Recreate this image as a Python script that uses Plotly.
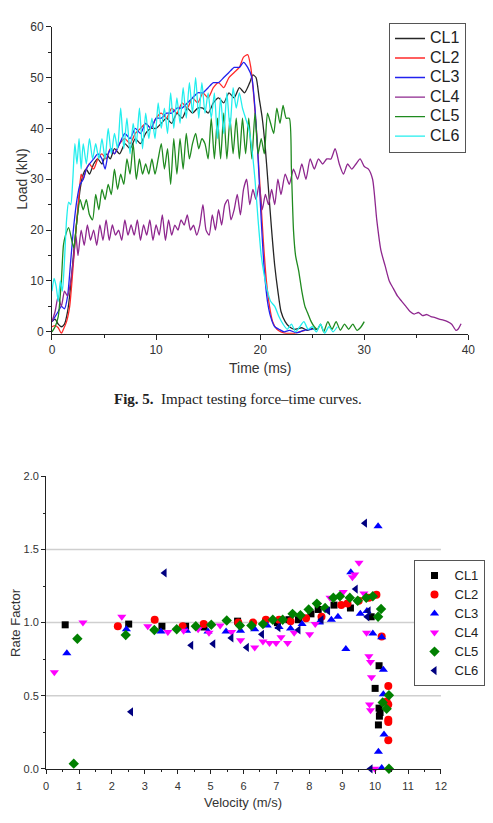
import plotly.graph_objects as go

W, H = 493, 823

# ---------------- Fig. 5 data: load (kN) vs time (ms) ----------------
series_names = ["CL1", "CL2", "CL3", "CL4", "CL5", "CL6"]

t_cl1 = [0, 0.3, 0.6, 0.9, 1.2, 1.5, 1.8, 2.1, 2.4, 2.7, 3.0, 3.3, 3.6, 4.0, 4.4, 4.8, 5.2, 5.6, 6.0, 6.5,
         7.0, 7.5, 8.0, 8.5, 9.0, 9.5, 10.0, 10.5, 11.0, 11.5, 12.0, 12.5, 13.0, 13.5, 14.0, 14.5, 15.0,
         15.5, 16.0, 16.5, 17.0, 17.5, 18.0, 18.5, 19.0, 19.3, 19.6, 19.9, 20.2, 20.5, 20.8, 21.1, 21.4,
         21.7, 22.0, 22.4, 22.8, 23.3, 24.0, 24.5, 25.0, 25.5]
load_cl1 = [2, 2.5, 1.5, 1, 1.5, 4, 9, 16, 22, 28, 31, 32, 31, 33, 34, 33, 35, 34, 36, 35,
            37, 36, 38, 37, 39, 40, 40, 41, 42, 41, 43, 42, 44, 43, 44, 44, 43,
            45, 46, 45, 47, 46, 48, 47, 49, 50.5, 50, 46, 42, 36, 28, 20, 13,
            8, 4, 2, 1, 0.5, 0.8, 0.3, 0.6, 0.5]

t_cl2 = [0, 0.3, 0.6, 0.9, 1.1, 1.4, 1.7, 2.0, 2.3, 2.6, 2.8, 3.0, 3.3, 3.6, 4.0, 4.4, 4.8, 5.2, 5.6, 6.0,
         6.5, 7.0, 7.5, 8.0, 8.5, 9.0, 9.5, 10, 10.5, 11, 11.5, 12, 12.5, 13, 13.5, 14, 14.5, 15, 15.5,
         16, 16.5, 17, 17.5, 18, 18.4, 18.8, 19.1, 19.4, 19.7, 20.0, 20.3, 20.6, 20.9, 21.2, 21.6,
         22.0, 22.5, 23.0, 23.3, 23.8, 24.3]
load_cl2 = [1, 1.2, 0.8, -0.3, 0.5, 2, 5, 12, 20, 27, 31, 30, 32, 33, 32, 34, 35, 34, 36, 35,
            37, 38, 37, 39, 40, 41, 40, 42, 43, 42, 44, 43, 45, 44, 46, 45, 47, 46, 48,
            49, 48, 50, 51, 52, 54, 54.5, 52, 46, 38, 28, 18, 10, 5, 2, 0.5,
            0, -0.3, -0.3, -0.3, 0, 0.3]

t_cl3 = [0, 0.3, 0.6, 0.9, 1.2, 1.5, 1.8, 2.1, 2.4, 2.7, 3.0, 3.3, 3.6, 4.0, 4.4, 4.8, 5.1, 5.4, 5.7, 6.0,
         6.5, 7, 7.5, 8, 8.5, 9, 9.5, 10, 10.5, 11, 11.5, 12, 12.5, 13, 13.5, 14, 14.5, 15, 15.5, 16,
         16.5, 17, 17.5, 18.0, 18.4, 18.8, 19.2, 19.5, 19.8, 20.1, 20.4, 20.7, 21.0, 21.4, 21.8, 22.3,
         22.8, 23.5, 24.2, 25]
load_cl3 = [2, 3, 4, 5, 4.5, 7, 14, 21, 26, 29, 30, 32, 33, 34, 35, 34, 32, 35, 36, 35,
            37, 39, 38, 40, 39, 41, 40, 42, 42, 43, 43, 44, 44, 45, 46, 47, 47, 48, 49, 49,
            50, 51, 52, 52, 53, 52, 50, 44, 34, 22, 12, 6, 3, 1, 0.5, 0,
            0.3, -0.2, 0.3, 0.5]

t_cl4 = [0, 0.3, 0.6, 0.9, 1.2, 1.5, 1.8, 2.1, 2.3, 2.5, 2.8, 3.1, 3.4, 3.7, 4.0, 4.3, 4.6, 4.9, 5.2, 5.5,
         5.8, 6.1, 6.4, 6.7, 7.0, 7.3, 7.6, 7.9, 8.2, 8.5, 8.8, 9.1, 9.4, 9.7, 10.0, 10.3, 10.6, 10.9,
         11.2, 11.5, 11.8, 12.1, 12.4, 12.7, 13.0, 13.3, 13.6, 13.9, 14.2, 14.5, 14.8, 15.1, 15.4, 15.7,
         16.0, 16.3, 16.6, 16.9, 17.2, 17.5, 17.8, 18.1, 18.4, 18.7, 19.0, 19.3, 19.6, 19.9, 20.2, 20.5,
         20.8, 21.1, 21.4, 21.7, 22.0, 22.4, 22.8, 23.2, 23.6, 24.0, 24.4, 24.8, 25.2, 25.6, 26.0, 26.4,
         26.8, 27.2, 27.6, 28.0, 28.4, 28.8, 29.2, 29.6, 30.0, 30.4, 30.8, 31.2, 31.6, 32.0, 32.4, 32.8,
         33.2, 33.6, 34.0, 34.4, 34.8, 35.2, 35.6, 36.0, 36.4, 36.8, 37.2, 37.6, 38.0, 38.4, 38.8, 39.0,
         39.3]
load_cl4 = [2, 4, 7, 5, 8, 7, 10, 15, 19, 15, 20, 17, 21, 18, 20, 17, 21, 18, 22, 18,
            21, 19, 20, 18, 22, 19, 21, 19, 22, 18, 21, 19, 22, 18, 21, 19, 23, 18,
            22, 19, 21, 20, 22, 21, 23, 20, 21, 19, 21, 25, 20, 19, 23, 20,
            24, 21, 25, 26, 22, 24, 27, 23, 28, 30, 25, 28, 26, 29, 24, 27,
            25, 28, 25, 30, 27, 31, 29, 32, 30, 33, 30, 34, 32, 34, 33, 34,
            34, 36, 33, 31, 33, 32, 33, 34, 32.5, 32, 30, 22, 16, 13, 10, 8.5,
            7, 6, 5, 4, 3.5, 3.8, 3.2, 3.4, 3, 2.8, 2.5, 2.3, 2.0, 1.5, 0.3, 0.5,
            1.6]

t_cl5 = [0, 0.3, 0.6, 0.9, 1.1, 1.3, 1.6, 1.9, 2.1, 2.4, 2.7, 3.0, 3.3, 3.6, 3.9, 4.2, 4.5, 4.8, 5.1, 5.4,
         5.7, 6.0, 6.3, 6.6, 6.9, 7.2, 7.5, 7.8, 8.1, 8.4, 8.7, 9.0, 9.3, 9.6, 9.9, 10.2, 10.5, 10.8,
         11.1, 11.4, 11.7, 12.0, 12.3, 12.6, 12.9, 13.2, 13.5, 13.8, 14.1, 14.4, 14.7, 15.0, 15.3, 15.6,
         15.9, 16.2, 16.5, 16.8, 17.1, 17.4, 17.7, 18.0, 18.3, 18.6, 18.9, 19.2, 19.5, 19.8, 20.1, 20.4,
         20.7, 21.0, 21.3, 21.6, 21.9, 22.2, 22.5, 22.8, 23.0, 23.2, 23.4, 23.7, 24.0, 24.3, 24.6, 24.9,
         25.2, 25.5, 25.8, 26.1, 26.5, 26.9, 27.3, 27.7, 28.1, 28.5, 28.9, 29.3, 29.7, 30.0]
load_cl5 = [0, 1, 3, 10, 17, 19, 20.5, 18, 16.5, 22, 26, 24, 26, 23, 22, 27, 24, 28, 26, 29,
            27, 32, 28, 31, 29, 34, 31, 37, 30, 34, 31, 33, 31, 34, 31, 34, 37, 32,
            36, 29, 38, 31, 38, 32, 39, 34, 37, 39, 36, 38, 37, 34, 42, 34,
            42, 34, 43, 34, 42, 35, 42, 34, 42, 35, 42, 34, 43, 35, 38, 35,
            43, 41, 39, 44, 41, 44.5, 42, 42, 32, 20, 15, 12, 8, 5, 3.5, 2,
            1, 0.5, 1.5, 0, 2, 0.5, 2, 0.3, 1.5, 0.5, 1.5, 0.3, 1, 2]

t_cl6 = [0, 0.2, 0.4, 0.6, 0.8, 1.0, 1.2, 1.4, 1.6, 1.8, 2.0, 2.2, 2.4, 2.6, 2.8, 3.0, 3.3, 3.6, 3.9, 4.2,
         4.5, 4.8, 5.1, 5.4, 5.7, 6.0, 6.3, 6.6, 6.9, 7.2, 7.5, 7.8, 8.1, 8.4, 8.7, 9.0, 9.3, 9.6, 9.9,
         10.2, 10.5, 10.8, 11.1, 11.4, 11.7, 12.0, 12.3, 12.6, 12.9, 13.2, 13.5, 13.8, 14.1, 14.4, 14.7,
         15.0, 15.3, 15.6, 15.9, 16.2, 16.5, 16.8, 17.1, 17.4, 17.7, 18.0, 18.3, 18.6, 18.9, 19.2, 19.5,
         19.8, 20.1, 20.4, 20.7, 21.0, 21.4, 21.8, 22.2, 22.6, 23.0, 23.4, 23.8, 24.2, 24.6, 25.0, 25.4,
         25.8, 26.2, 26.6, 27.0, 27.4]
load_cl6 = [8, 10.5, 9, 6, 10, 8, 14, 22, 25.5, 25, 30, 37, 33, 38, 32, 37, 33, 38, 34, 37,
            34, 38, 34, 40, 35, 39, 36, 44, 36, 42, 35, 41, 37, 44, 36, 43, 38, 42, 38,
            45, 40, 44, 39, 47, 40, 46, 41, 48, 42, 49, 43, 50, 42, 49, 43,
            47, 42, 47, 38, 46, 39, 47, 40, 48, 44, 47, 44, 42, 40, 36, 30,
            22, 15, 11, 8, 6, 5, 3, 1.5, 0.5, 1.5, 0, 1, 2, 0.5, 1, 0,
            1.5, -0.3, 1, 0, 1]

# ---------------- Rate factor vs velocity ----------------
vel_cl1 = [0.58, 2.51, 3.52, 4.24, 4.80, 5.82, 7.03, 7.38, 7.67, 8.05, 8.27, 8.75, 9.25, 9.88,
           10.12, 10.0, 10.12, 10.15, 10.13, 10.1]
rf_cl1 = [0.985, 0.99, 0.975, 0.975, 0.97, 1.01, 1.0, 1.02, 1.02, 1.06, 1.09, 1.12, 1.1, 1.04,
          0.705, 0.55, 0.415, 0.385, 0.36, 0.30]

vel_cl2 = [2.18, 3.3, 4.15, 4.79, 5.84, 6.29, 6.68, 7.08, 7.43, 7.9, 8.37, 8.97, 9.16, 9.5, 9.81,
           10.04, 10.2, 10.4, 10.35, 10.4, 10.4, 10.4, 10.4]
rf_cl2 = [0.975, 1.02, 0.975, 0.99, 1.0, 1.0, 1.02, 1.02, 1.01, 1.03, 1.04, 1.12, 1.13, 1.15, 1.17,
          1.19, 0.905, 0.566, 0.46, 0.44, 0.335, 0.32, 0.195]

vel_cl3 = [0.63, 2.44, 3.49, 4.27, 4.92, 5.47, 5.91, 6.34, 6.72, 7.08, 7.43, 7.78, 8.3, 8.67, 8.87,
           9.11, 9.26, 9.55, 9.75, 9.93, 10.09, 10.2, 10.25, 10.25, 10.27, 10.1, 10.2]
rf_cl3 = [0.79, 0.955, 0.94, 0.945, 0.94, 0.94, 0.945, 0.955, 0.98, 0.97, 0.96, 0.99, 1.0, 1.02, 1.04,
          0.82, 1.345, 1.06, 1.08, 0.925, 1.66, 0.90, 0.678, 0.51, 0.234, 0.117, 0.005]

vel_cl4 = [0.25, 1.12, 2.3, 3.09, 3.7, 4.18, 4.62, 4.95, 5.29, 5.64, 5.91, 6.34, 6.59, 6.79, 6.99,
           7.14, 7.34, 7.54, 8.01, 8.18, 8.63, 9.03, 9.31, 9.38, 9.51, 9.66, 9.74, 9.81, 9.86, 9.89,
           9.83, 9.86, 9.99]
rf_cl4 = [0.66, 1.0, 1.04, 0.975, 0.935, 0.945, 0.955, 0.93, 0.98, 0.935, 0.88, 0.83, 0.87, 0.86, 0.86,
          0.9, 0.86, 0.93, 0.92, 0.99, 1.17, 1.21, 1.31, 1.33, 1.41, 1.2, 0.93, 0.77, 0.73, 0.626,
          0.44, 0.40, 0.0]

vel_cl5 = [0.84, 0.95, 2.42, 3.29, 3.97, 4.55, 5.02, 5.49, 5.89, 6.24, 6.59, 6.89, 7.19, 7.49, 7.73,
           7.98, 8.23, 8.48, 8.73, 8.93, 9.23, 9.47, 9.73, 9.93, 10.09, 10.18, 10.42, 10.23, 10.35, 10.42]
rf_cl5 = [0.035, 0.89, 0.915, 0.95, 0.955, 0.975, 0.985, 1.015, 0.98, 0.98, 0.99, 1.02, 1.02, 1.06, 1.05,
          1.09, 1.13, 1.1, 1.17, 1.18, 1.17, 1.15, 1.17, 1.18, 1.04, 1.093, 0.503, 0.453, 0.41, 0.0]

vel_cl6 = [2.58, 3.6, 4.41, 5.08, 5.63, 6.1, 6.56, 7.06, 7.67, 8.37, 8.57, 9.41, 9.69, 9.76, 9.8, 9.86]
rf_cl6 = [0.39, 1.34, 0.845, 0.855, 0.895, 0.83, 0.92, 0.965, 0.95, 1.02, 1.08, 1.23, 1.68, 1.04, 1.08, 0.0]

line_colors = ["#262626", "#ff2a2a", "#2222ee", "#8e278e", "#1f8a1f", "#22eeee"]
marker_colors = ["#000000", "#ff0000", "#0000ff", "#ff00ff", "#008000", "#000080"]
marker_symbols = ["square", "circle", "triangle-up", "triangle-down", "diamond", "triangle-left"]
marker_sizes = [7, 8, 8, 8, 8, 8]

times = [t_cl1, t_cl2, t_cl3, t_cl4, t_cl5, t_cl6]
loads = [load_cl1, load_cl2, load_cl3, load_cl4, load_cl5, load_cl6]
vels = [vel_cl1, vel_cl2, vel_cl3, vel_cl4, vel_cl5, vel_cl6]
rfs = [rf_cl1, rf_cl2, rf_cl3, rf_cl4, rf_cl5, rf_cl6]

SANS = "Liberation Sans, Arial, sans-serif"
SERIF = "Liberation Serif, Times New Roman, serif"
AX = "#222222"
TXT = "#333333"

fig = go.Figure()
for i, name in enumerate(series_names):
    fig.add_trace(go.Scatter(
        x=times[i], y=loads[i], mode="lines",
        name="<span style='font-size:16px'>" + name + "</span>",
        line=dict(color=line_colors[i], width=1.3, shape="spline", smoothing=0.6),
        xaxis="x", yaxis="y", legend="legend"))
for i, name in enumerate(series_names):
    fig.add_trace(go.Scatter(
        x=vels[i], y=rfs[i], mode="markers",
        name="<span style='font-size:13px'>" + name + "</span>", cliponaxis=False,
        marker=dict(color=marker_colors[i], symbol=marker_symbols[i], size=marker_sizes[i],
                    line=dict(width=0)),
        xaxis="x2", yaxis="y2", legend="legend2"))

def px(x):
    return x / W

def py(y):
    return 1 - y / H

common = dict(showline=True, linecolor=AX, linewidth=1, ticks="outside", tickcolor=AX,
              tickwidth=1, showgrid=False, zeroline=False, mirror=False,
              tickfont=dict(family=SANS, size=12, color=TXT))

fig.update_layout(
    width=W, height=H, autosize=False,
    margin=dict(l=0, r=0, t=0, b=0),
    paper_bgcolor="white", plot_bgcolor="white",
    font=dict(family=SANS, color=TXT),
    xaxis=dict(domain=[px(50), px(475)], range=[0, 40], dtick=10, ticklen=5, anchor="y",
               minor=dict(dtick=5, ticks="outside", ticklen=3, tickcolor=AX), **common),
    yaxis=dict(domain=[py(332.1), py(20)], range=[-0.4, 60], dtick=10, ticklen=5, anchor="x",
               minor=dict(dtick=5, ticks="outside", ticklen=3, tickcolor=AX), **common),
    xaxis2=dict(domain=[px(44), px(447)], range=[0, 12], dtick=1, ticklen=4, anchor="y2",
                ticklabelstandoff=3,
                minor=dict(dtick=0.5, ticks="outside", ticklen=2, tickcolor=AX),
                **{**common, "tickfont": dict(family=SANS, size=11, color=TXT)}),
    yaxis2=dict(domain=[py(774), py(477)], range=[0, 2.0], dtick=0.5, tickformat=".1f", ticklen=4,
                anchor="x2", minor=dict(dtick=0.25, ticks="outside", ticklen=2, tickcolor=AX),
                **{**common, "tickfont": dict(family=SANS, size=11, color=TXT)}),
    legend=dict(x=px(394), y=py(16), xanchor="left", yanchor="top",
                bordercolor="#555555", borderwidth=1, bgcolor="white",
                font=dict(family=SANS, size=12.7, color="#222222"), tracegroupgap=0),
    legend2=dict(x=px(419), y=py(562), xanchor="left", yanchor="top",
                 bordercolor="#555555", borderwidth=1, bgcolor="white", itemwidth=30,
                 font=dict(family=SANS, size=10.2, color="#222222"), tracegroupgap=0),
    showlegend=True,
)

for gv in [0.5, 1.0, 1.5]:
    fig.add_shape(type="line", xref="x2 domain", yref="y2", x0=0, x1=1, y0=gv, y1=gv,
                  line=dict(color="#cfcfcf", width=1.5), layer="below")

annots = [
    dict(text="Load (kN)", x=px(20), y=py(175), textangle=-90, font=dict(size=14, family=SANS, color=TXT)),
    dict(text="Time (ms)", x=px(262), y=py(367), font=dict(size=14, family=SANS, color=TXT)),
    dict(text="<b>Fig. 5.</b>  Impact testing force\u2013time curves.", x=px(240), y=py(398),
         font=dict(size=15, family=SERIF, color="#222222")),
    dict(text="Rate Factor", x=px(12), y=py(625), textangle=-90, font=dict(size=13, family=SANS, color=TXT)),
    dict(text="Velocity (m/s)", x=px(245), y=py(808), font=dict(size=13, family=SANS, color=TXT)),
]
for a in annots:
    fig.add_annotation(xref="paper", yref="paper", showarrow=False, xanchor="center", yanchor="middle", **a)

fig.write_html("out.html")
